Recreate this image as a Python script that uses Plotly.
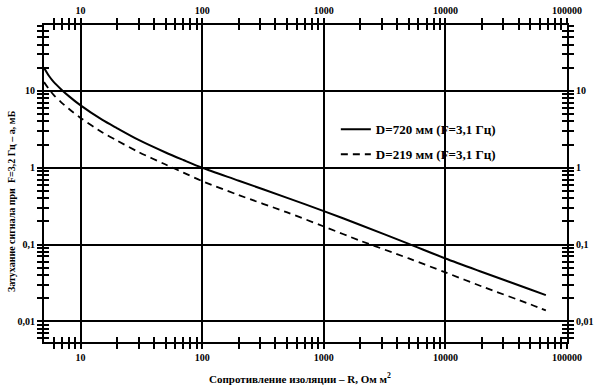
import math
import plotly.graph_objects as go

# --- data ---
R_720 = [5, 5.5, 6, 7, 8, 10, 15, 20, 30, 50, 70, 100, 200, 500, 1000, 2000, 5000, 10000, 20000, 50000, 67000]
A_720 = [20, 15.6, 13.1, 10.3, 8.55, 6.47, 4.22, 3.26, 2.3, 1.58, 1.26, 1.0, 0.678, 0.406, 0.273, 0.18, 0.102, 0.066, 0.044, 0.026, 0.022]
R_219 = [5, 5.5, 6, 7, 8, 10, 15, 20, 30, 50, 70, 100, 200, 500, 1000, 2000, 5000, 10000, 20000, 50000, 67000]
A_219 = [13, 10.5, 8.9, 7.0, 5.85, 4.45, 2.9, 2.25, 1.6, 1.1, 0.865, 0.67, 0.44, 0.262, 0.172, 0.112, 0.066, 0.0435, 0.0285, 0.0167, 0.0139]

name_720 = "<b>D=720 мм (F=3,1 Гц)</b>"
name_219 = "<b>D=219 мм (F=3,1 Гц)</b>"

x_major = [10, 100, 1000, 10000, 100000]
x_major_labels = ["10", "100", "1000", "10000", "100000"]
y_major = [0.01, 0.1, 1, 10]
y_major_labels = ["0,01", "0,1", "1", "10"]

x_title = "Сопротивление изоляции – R, Ом м<sup>2</sup>"
y_title = "Затухание сигнала при  F=3,2 Гц – a, мБ"

X_MIN, X_MAX = 5, 100000
Y_MIN, Y_MAX = 0.0054, 72

x_minor = [m * 10 ** k for k in range(0, 5) for m in range(2, 10) if X_MIN < m * 10 ** k < X_MAX]
y_minor = [m * 10.0 ** k for k in range(-3, 2) for m in range(2, 10) if Y_MIN < m * 10.0 ** k < Y_MAX]

FONT = "Liberation Serif"

fig = go.Figure()
fig.add_trace(go.Scatter(x=R_720, y=A_720, mode="lines", name=name_720,
                         line=dict(color="black", width=2, shape="spline", smoothing=0.8),
                         legendgroup="a"))
fig.add_trace(go.Scatter(x=R_219, y=A_219, mode="lines", name=name_219,
                         line=dict(color="black", width=1.8, dash="7px,5px", shape="spline", smoothing=0.8),
                         legendgroup="b"))
# invisible carriers so the mirror / inner-tick axes get drawn
for i in (2, 3, 4):
    fig.add_trace(go.Scatter(x=R_720, y=A_720, mode="lines", xaxis=f"x{i}", yaxis=f"y{i}",
                             line=dict(color="rgba(0,0,0,0)", width=0), showlegend=False,
                             hoverinfo="skip"))

xr = [math.log10(X_MIN), math.log10(X_MAX)]
yr = [math.log10(Y_MIN), math.log10(Y_MAX)]
tickfont = dict(family=FONT, size=10, color="black")


def xaxis(side, ticks, labels, grid, line, anchor, overlay=None):
    d = dict(type="log", range=xr, side=side, anchor=anchor, automargin=False,
             tickmode="array", tickvals=x_major, ticktext=["<b>%s</b>" % t for t in x_major_labels],
             ticks=ticks, ticklen=5, tickwidth=1.5, tickcolor="black",
             showticklabels=labels, tickfont=tickfont,
             showgrid=grid, gridcolor="black", gridwidth=1.5,
             showline=line, linecolor="black", linewidth=2, zeroline=False,
             minor=dict(tickmode="array", tickvals=x_minor, ticks=ticks, ticklen=5,
                        tickwidth=1.5, tickcolor="black", showgrid=False))
    if overlay:
        d["overlaying"] = overlay
    return d


def yaxis(side, ticks, labels, grid, line, anchor, overlay=None):
    d = dict(type="log", range=yr, side=side, anchor=anchor, automargin=False,
             tickmode="array", tickvals=y_major, ticktext=["<b>%s</b>" % t for t in y_major_labels],
             ticks=ticks, ticklen=5, tickwidth=1.5, tickcolor="black",
             showticklabels=labels, tickfont=tickfont,
             showgrid=grid, gridcolor="black", gridwidth=1.5,
             showline=line, linecolor="black", linewidth=2, zeroline=False,
             minor=dict(tickmode="array", tickvals=y_minor, ticks=ticks, ticklen=5,
                        tickwidth=1.5, tickcolor="black", showgrid=False))
    if overlay:
        d["overlaying"] = overlay
    return d


fig.update_layout(
    width=602, height=386,
    margin=dict(l=44, r=35, t=25, b=44),
    paper_bgcolor="white", plot_bgcolor="white",
    font=dict(family=FONT, color="black"),
    xaxis=xaxis("bottom", "outside", True, True, True, "y"),
    xaxis2=xaxis("top", "outside", True, False, True, "y2", overlay="x"),
    xaxis3=xaxis("bottom", "inside", False, False, False, "y3", overlay="x"),
    xaxis4=xaxis("top", "inside", False, False, False, "y4", overlay="x"),
    yaxis=yaxis("left", "outside", True, True, True, "x"),
    yaxis2=yaxis("right", "outside", True, False, True, "x2", overlay="y"),
    yaxis3=yaxis("left", "inside", False, False, False, "x3", overlay="y"),
    yaxis4=yaxis("right", "inside", False, False, False, "x4", overlay="y"),
    showlegend=True,
    legend=dict(x=0.558, y=0.718, xanchor="left", yanchor="top",
                bgcolor="rgba(0,0,0,0)", borderwidth=0,
                font=dict(family=FONT, size=13, color="black"),
                traceorder="grouped", tracegroupgap=5, itemwidth=30),
    annotations=[
        dict(text="<b>" + x_title + "</b>", xref="paper", yref="paper",
             x=0.49, y=-0.114, xanchor="center", yanchor="middle", showarrow=False,
             font=dict(family=FONT, size=11, color="black")),
        dict(text="<b>" + y_title + "</b>", xref="paper", yref="paper",
             x=-0.061, y=0.445, xanchor="center", yanchor="middle", textangle=-90,
             showarrow=False, font=dict(family=FONT, size=10, color="black")),
    ],
)

fig.write_html("out.html", config={"displayModeBar": False},
               post_script="document.body.style.margin='0px';")
